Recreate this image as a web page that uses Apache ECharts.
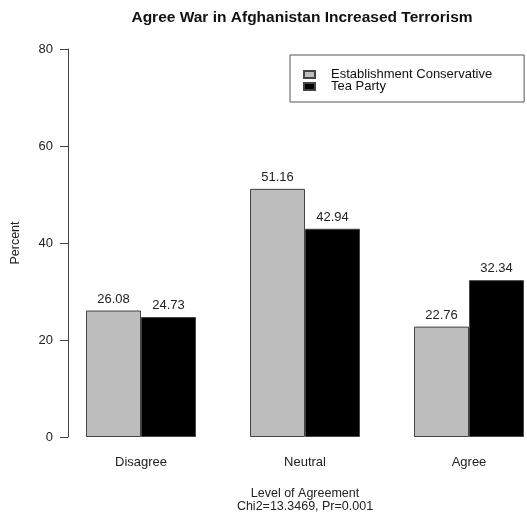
<!DOCTYPE html>
<html>
<head>
<meta charset="utf-8">
<script src="https://cdn.jsdelivr.net/npm/echarts@6/dist/echarts.min.js"></script>
<style>html,body{margin:0;padding:0;background:#fff;}#c{width:527px;height:519px;}</style>
</head>
<body>
<div id="c"></div>
<script>
const categories = ['Disagree', 'Neutral', 'Agree'];
const seriesNames = ['Establishment Conservative', 'Tea Party'];
const establishment = [26.08, 51.16, 22.76];
const teaParty = [24.73, 42.94, 32.34];
const yTicks = [0, 20, 40, 60, 80];
const titleText = 'Agree War in Afghanistan Increased Terrorism';
const xTitle = 'Level of Agreement\nChi2=13.3469, Pr=0.001';
const yTitle = 'Percent';

const FONT = "'Liberation Sans', Arial, Helvetica, sans-serif";
const chart = echarts.init(document.getElementById('c'), null, {renderer: 'canvas'});
const labelStyle = {show: true, position: 'top', distance: 5, fontSize: 13, color: '#222', fontFamily: FONT,
  formatter: p => p.value.toFixed(2)};
chart.setOption({
  animation: false,
  backgroundColor: '#fff',
  textStyle: {fontFamily: FONT},
  graphic: [{
    type: 'text', x: 302, y: 18,
    style: {text: titleText, textAlign: 'center', textVerticalAlign: 'middle',
      font: "bold 15.5px 'Liberation Sans', Arial, sans-serif", fill: '#111'}
  }],
  legend: {
    orient: 'vertical', left: 290, top: 55,
    padding: [13, 32, 9, 13],
    borderColor: '#555', borderWidth: 1,
    itemWidth: 11, itemHeight: 7, itemGap: -1,
    icon: 'rect',
    data: seriesNames,
    textStyle: {fontSize: 13, lineHeight: 11, color: '#111', fontFamily: FONT, padding: [0, 0, 0, 11]}
  },
  grid: {left: 59, top: 49, width: 492, height: 388, containLabel: false, outerBoundsMode: 'none'},
  xAxis: {
    type: 'category', data: categories,
    axisLine: {show: false}, axisTick: {show: false},
    axisLabel: {fontSize: 13, color: '#222', margin: 19, fontFamily: FONT},
    name: xTitle, nameLocation: 'middle', nameGap: 50,
    nameTextStyle: {fontSize: 12.5, lineHeight: 13, color: '#222', fontFamily: FONT, align: 'center'}
  },
  yAxis: {
    type: 'value', min: 0, max: 80, interval: 20, offset: -9,
    splitLine: {show: false},
    axisLine: {show: true, lineStyle: {color: '#444', width: 1}},
    axisTick: {show: true, length: 8, lineStyle: {color: '#444'}},
    axisLabel: {fontSize: 13, color: '#222', margin: 15, fontFamily: FONT,
      formatter: v => yTicks.includes(v) ? String(v) : ''},
    name: yTitle, nameLocation: 'middle', nameGap: 46,
    nameTextStyle: {fontSize: 12.5, color: '#222', fontFamily: FONT}
  },
  series: [
    {name: seriesNames[0], type: 'bar', data: establishment, barWidth: 55, barGap: '0%',
      itemStyle: {color: '#bdbdbd', borderColor: '#444', borderWidth: 1}, label: labelStyle},
    {name: seriesNames[1], type: 'bar', data: teaParty, barWidth: 55, barGap: '0%',
      itemStyle: {color: '#000', borderColor: '#444', borderWidth: 1}, label: labelStyle}
  ]
});
</script>
</body>
</html>
